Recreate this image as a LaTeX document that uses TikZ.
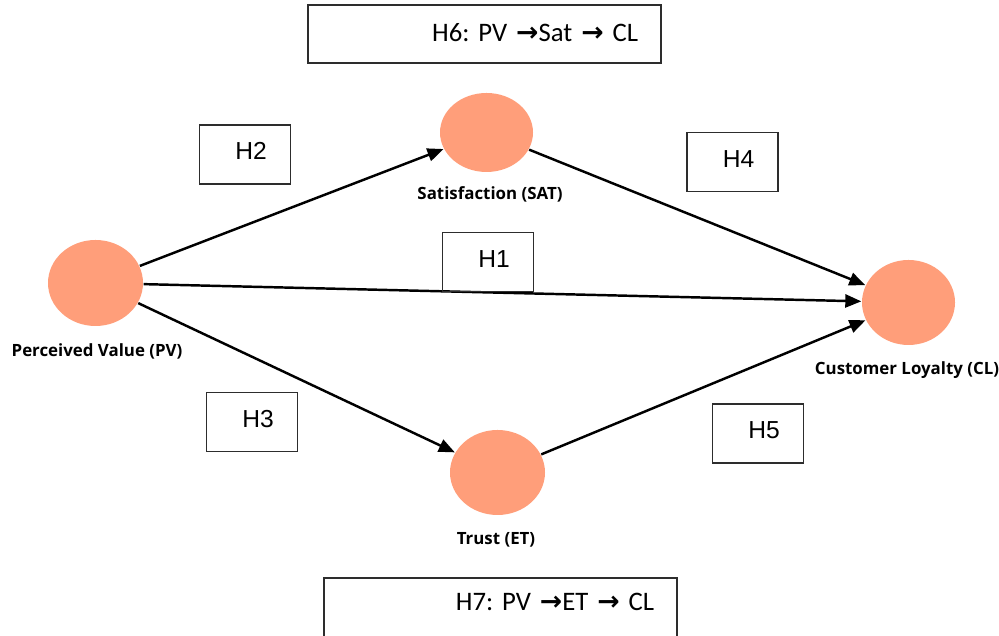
\documentclass[tikz,border=0pt]{standalone}
\usepackage{fontspec}
\setmainfont{Liberation Sans}
\newfontfamily\labelfont{Open Sans}
\newfontfamily\medfont{Carlito}
\newfontfamily\arrowfont{DejaVu Sans}
\usetikzlibrary{shapes.geometric, arrows.meta}

\definecolor{constructfill}{RGB}{255,158,122}
\definecolor{boxline}{RGB}{45,45,45}
\newcommand{\medarrow}{{\arrowfont\bfseries →}}

\begin{document}
\begin{tikzpicture}[
    construct/.style = {ellipse, fill=constructfill, inner sep=0pt},
    link/.style      = {-{Triangle[length=1.6mm, width=1.3mm]}, line width=0.7pt},
    hypbox/.style    = {draw=boxline, line width=0.5pt, minimum width=0.91cm,
                        minimum height=0.59cm, inner sep=0pt,
                        text height=0.17cm, text depth=0.06cm,
                        font=\fontsize{7}{8}\selectfont},
    medbox/.style    = {draw=boxline, line width=0.5pt, minimum height=0.58cm,
                        text width=3.07cm, inner xsep=0.23cm, inner ysep=0pt,
                        align=right, font=\medfont\fontsize{7.6}{9}\selectfont},
    lbl/.style       = {font=\labelfont\bfseries\fontsize{4.8}{6}\selectfont},
]
\useasboundingbox (0,0) rectangle (9.99,6.36);

% ============================================================
%  CONSTRUCTS
% ============================================================
\node[construct, minimum width=0.95cm, minimum height=0.86cm] (PV)  at (0.955, 3.53)  {};
\node[construct, minimum width=0.93cm, minimum height=0.79cm] (SAT) at (4.865, 5.035) {};
\node[construct, minimum width=0.95cm, minimum height=0.85cm] (ET)  at (4.975, 1.635) {};
\node[construct, minimum width=0.93cm, minimum height=0.85cm] (CL)  at (9.085, 3.335) {};

\node[lbl] (PVlbl)  at (0.97, 2.85)  {Perceived Value (PV)};
\node[lbl] (SATlbl) at (4.90, 4.42)  {Satisfaction (SAT)};
\node[lbl] (ETlbl)  at (4.96, 0.96)  {Trust (ET)};
\node[lbl] (CLlbl)  at (9.07, 2.66)  {Customer Loyalty (CL)};

% ============================================================
%  PATHS
% ============================================================
\draw[link] (PV)  -- (SAT);
\draw[link] (PV)  -- (CL);
\draw[link] (PV)  -- (ET);
\draw[link] (SAT) -- (CL);
\draw[link] (ET)  -- (CL);

% ============================================================
%  HYPOTHESES  (text sits a little right of the box centre)
% ============================================================
\node[hypbox] (h1) at (4.88, 3.74)  {\hspace*{0.12cm}H1};
\node[hypbox] (h2) at (2.45, 4.815) {\hspace*{0.12cm}H2};
\node[hypbox] (h3) at (2.52, 2.14)  {\hspace*{0.12cm}H3};
\node[hypbox] (h4) at (7.325, 4.74) {\hspace*{0.12cm}H4};
\node[hypbox] (h5) at (7.58, 2.025) {\hspace*{0.12cm}H5};

% mediation boxes (top and bottom)
\node[medbox, text height=0.22cm, text depth=0.06cm] (h6) at (4.845, 6.02)
    {H6:\ PV \medarrow Sat \medarrow\ CL};
\node[medbox, minimum height=0.6cm, text height=0.22cm, text depth=0.16cm] (h7) at (5.005, 0.28)
    {H7:\ PV \medarrow ET \medarrow\ CL};

\end{tikzpicture}
\end{document}
